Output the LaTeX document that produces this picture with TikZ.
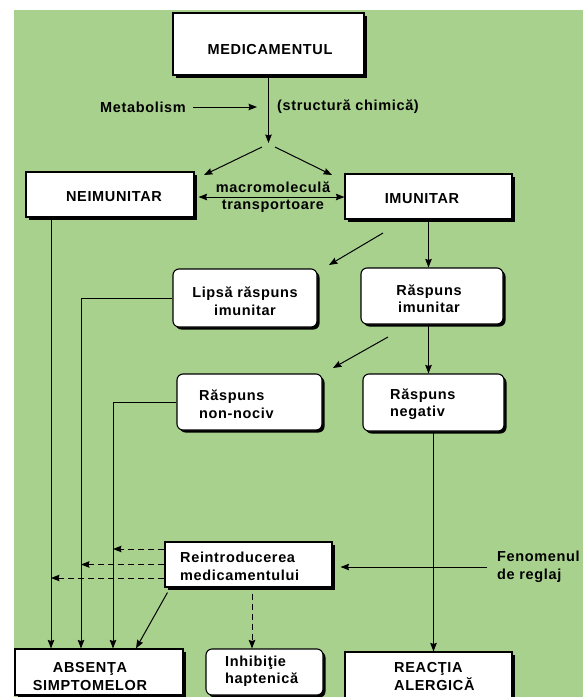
\documentclass[tikz,border=0pt]{standalone}
\usepackage{fontspec}
\setmainfont{Liberation Sans}[LetterSpace=4.5]
\usetikzlibrary{arrows.meta,shadows,calc}
\definecolor{bggreen}{RGB}{169,209,142}
\pgfdeclarelayer{back}
\pgfdeclarelayer{conn}
\pgfsetlayers{back,conn,main}
\tikzset{
  box/.style={draw=black, line width=1.1pt, fill=white, inner sep=0pt,
    drop shadow={shadow xshift=2.5pt, shadow yshift=-2.5pt, fill=black, opacity=1}},
  rbox/.style={box, rounded corners=6pt},
  txt/.style={font=\fontsize{14.5}{17.5}\selectfont\bfseries, inner sep=0pt},
  arr/.style={line width=1pt, -{Stealth[length=8.5pt,width=6.5pt,inset=1pt]}},
  darr/.style={line width=1pt, {Stealth[length=8.5pt,width=6.5pt,inset=1pt]}-{Stealth[length=8.5pt,width=6.5pt,inset=1pt]}},
  dsh/.style={arr, dash pattern=on 6.5pt off 3.5pt},
}
\begin{document}
\begin{tikzpicture}[x=1pt,y=-1pt]
\useasboundingbox (0,0) rectangle (583,697);
\clip (0,0) rectangle (583,697);
\begin{pgfonlayer}{back}
  \fill[bggreen] (14,10) rectangle (583,697);
\end{pgfonlayer}

% boxes
\node[box, minimum width=191pt, minimum height=62pt] (med) at (268.5,44) {};
\node[box, minimum width=168pt, minimum height=45pt] (neim) at (110,194.5) {};
\node[box, minimum width=167pt, minimum height=45pt] (imun) at (428.5,196.5) {};
\node[rbox, minimum width=144pt, minimum height=58pt] (lipsa) at (245,298) {};
\node[rbox, minimum width=142pt, minimum height=56pt] (rimun) at (432,296) {};
\node[rbox, minimum width=145pt, minimum height=56pt] (nonnoc) at (249.5,402) {};
\node[rbox, minimum width=141pt, minimum height=57pt] (rneg) at (433.5,402.5) {};
\node[box, minimum width=167pt, minimum height=45pt] (reint) at (248.5,564.5) {};
\node[box, minimum width=168pt, minimum height=46pt] (abs) at (99,672) {};
\node[rbox, minimum width=117pt, minimum height=46pt] (inhib) at (264.5,672) {};
\node[box, minimum width=167pt, minimum height=53pt] (reac) at (428.5,678.5) {};

% texts
\node[txt] (medT) at (270,50) {MEDICAMENTUL};
\node[txt] (metab) at (143,107) {Metabolism};
\node[txt] (struct) at (348,107) {(structură chimică)};
\node[txt] (neimT) at (114,197) {NEIMUNITAR};
\node[txt] (imunT) at (422,199) {IMUNITAR};
\node[txt, align=center] (macro) at (273,197) {macromoleculă\\transportoare};
\node[txt, align=center] (lipsaT) at (245,301) {Lipsă răspuns\\imunitar};
\node[txt, align=center] (rimunT) at (429,298.5) {Răspuns\\imunitar};
\node[txt, align=left, anchor=west] (nonnocT) at (199,404) {Răspuns\\non-nociv};
\node[txt, align=left, anchor=west] (rnegT) at (390,404) {Răspuns\\negativ};
\node[txt, align=left, anchor=west] (reintT) at (180,566.5) {Reintroducerea\\medicamentului};
\node[txt, align=left, anchor=west] (fen) at (497,567) {Fenomenul\\de reglaj};
\node[txt, align=center] (absT) at (90,676.5) {ABSENŢA\\SIMPTOMELOR};
\node[txt, align=left, anchor=west] (inhibT) at (225,671) {Inhibiţie\\haptenică};
\node[txt, align=left, anchor=west] (reacT) at (394,676.5) {REACŢIA\\ALERGICĂ};

% free coordinates
\coordinate (mtip) at (268.5,143);
\coordinate (mx) at (257,107);
\coordinate (dls) at (262,147);
\coordinate (dle) at (204,175);
\coordinate (drs) at (275,147);
\coordinate (dre) at (332,175);
\coordinate (dbl) at (0,197);
\coordinate (d1s) at (383,233);
\coordinate (d1e) at (329,265);
\coordinate (d2s) at (388,337);
\coordinate (d2e) at (333,368);
\coordinate (v1) at (51,0);
\coordinate (v2) at (81,0);
\coordinate (v3) at (113,0);
\coordinate (v4) at (136,0);
\coordinate (v5) at (252,0);
\coordinate (r1) at ($(reint.west)+(0,-15.5)$);
\coordinate (r2) at (reint.west);
\coordinate (r3) at ($(reint.west)+(0,13.5)$);
\coordinate (rs) at ($(reint.south west)+(3,5)$);

\begin{pgfonlayer}{conn}
  \draw[arr] (med.south) -- (mtip);
  \draw[arr] ($(metab.east)+(7,0)$) -- (mx);
  \draw[arr] (dls) -- (dle);
  \draw[arr] (drs) -- (dre);
  \draw[darr] ($(neim.east |- dbl)+(4,0)$) -- (imun.west |- dbl);
  \draw[arr] (imun.south) -- (imun.south |- rimun.north);
  \draw[arr] (d1s) -- (d1e);
  \draw[arr] (imun.south |- rimun.south) -- (imun.south |- rneg.north);
  \draw[arr] (d2s) -- (d2e);
  \draw[arr] (rneg.south) -- (rneg.south |- reac.north);
  \draw[arr] (neim.south -| v1) -- (v1 |- abs.north);
  \draw[arr] (lipsa.west) -| (v2 |- abs.north);
  \draw[arr] (nonnoc.west) -| (v3 |- abs.north);
  \draw[dsh] (r1) -- (v3 |- r1);
  \draw[dsh] (r2) -- (v2 |- r2);
  \draw[dsh] (r3) -- (v1 |- r3);
  \draw[arr] (rs) -- (v4 |- abs.north);
  \draw[dsh] ($(reint.south -| v5)+(0,6)$) -- (v5 |- inhib.north);
  \draw[arr] ($(fen.west)+(-10,0)$) -- ($(reint.east |- fen.west)+(8,0)$);
\end{pgfonlayer}
\end{tikzpicture}
\end{document}
